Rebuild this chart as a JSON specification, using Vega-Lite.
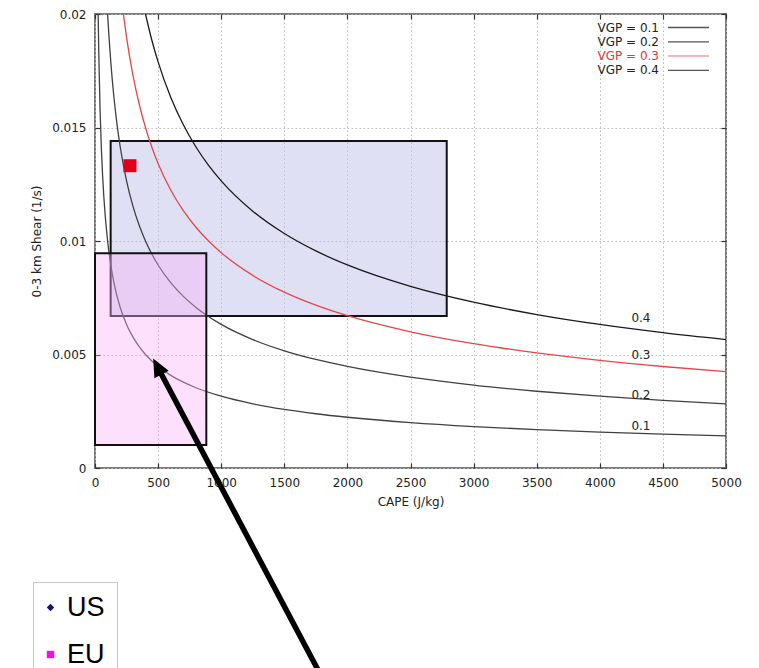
{
 "$schema": "https://vega.github.io/schema/vega-lite/v6.json",
 "width": 631,
 "height": 454,
 "autosize": {"type": "none"},
 "padding": {"left": 95, "top": 14, "right": 33, "bottom": 200},
 "background": "white",
 "config": {
  "view": {"stroke": "#7a7a7a", "strokeWidth": 2},
  "font": "DejaVu Sans",
  "axis": {"domain": false, "labelFlush": false, "labelFont": "DejaVu Sans", "labelFontSize": 12, "labelColor": "#222", "titleFont": "DejaVu Sans", "titleFontSize": 12, "titleFontWeight": "normal", "titleColor": "#222", "tickColor": "#333", "tickWidth": 1.2, "tickSize": -5, "labelPadding": 14, "titlePadding": 8, "gridColor": "#bbbbbb", "gridDash": [1.5, 2.5], "gridWidth": 1}
 },
 "datasets": {
  "usBox": [{"cape1": 124, "cape2": 2787, "s1": 0.006696, "s2": 0.014405}],
  "euBox": [{"cape1": 0, "cape2": 882, "s1": 0.001013, "s2": 0.009458}],
  "obs": [{"cape": 277, "shear": 0.013317}],
  "curves": [
   {"vgp": "0.1", "cape": 25, "shear": 0.02}, {"vgp": "0.1", "cape": 30, "shear": 0.018257}, {"vgp": "0.1", "cape": 40, "shear": 0.015811}, {"vgp": "0.1", "cape": 50, "shear": 0.014142}, {"vgp": "0.1", "cape": 60, "shear": 0.01291}, {"vgp": "0.1", "cape": 70, "shear": 0.011952}, {"vgp": "0.1", "cape": 80, "shear": 0.01118}, {"vgp": "0.1", "cape": 100, "shear": 0.01}, {"vgp": "0.1", "cape": 125, "shear": 0.008944}, {"vgp": "0.1", "cape": 150, "shear": 0.008165}, {"vgp": "0.1", "cape": 175, "shear": 0.007559}, {"vgp": "0.1", "cape": 200, "shear": 0.007071}, {"vgp": "0.1", "cape": 250, "shear": 0.006325}, {"vgp": "0.1", "cape": 300, "shear": 0.005774}, {"vgp": "0.1", "cape": 350, "shear": 0.005345}, {"vgp": "0.1", "cape": 400, "shear": 0.005}, {"vgp": "0.1", "cape": 500, "shear": 0.004472}, {"vgp": "0.1", "cape": 600, "shear": 0.004082}, {"vgp": "0.1", "cape": 700, "shear": 0.00378}, {"vgp": "0.1", "cape": 800, "shear": 0.003536}, {"vgp": "0.1", "cape": 1000, "shear": 0.003162}, {"vgp": "0.1", "cape": 1250, "shear": 0.002828}, {"vgp": "0.1", "cape": 1500, "shear": 0.002582}, {"vgp": "0.1", "cape": 1750, "shear": 0.00239}, {"vgp": "0.1", "cape": 2000, "shear": 0.002236}, {"vgp": "0.1", "cape": 2500, "shear": 0.002}, {"vgp": "0.1", "cape": 3000, "shear": 0.001826}, {"vgp": "0.1", "cape": 3500, "shear": 0.00169}, {"vgp": "0.1", "cape": 4000, "shear": 0.001581}, {"vgp": "0.1", "cape": 4500, "shear": 0.001491}, {"vgp": "0.1", "cape": 5000, "shear": 0.001414},
   {"vgp": "0.2", "cape": 100, "shear": 0.02}, {"vgp": "0.2", "cape": 110, "shear": 0.019069}, {"vgp": "0.2", "cape": 125, "shear": 0.017889}, {"vgp": "0.2", "cape": 150, "shear": 0.01633}, {"vgp": "0.2", "cape": 175, "shear": 0.015119}, {"vgp": "0.2", "cape": 200, "shear": 0.014142}, {"vgp": "0.2", "cape": 250, "shear": 0.012649}, {"vgp": "0.2", "cape": 300, "shear": 0.011547}, {"vgp": "0.2", "cape": 350, "shear": 0.01069}, {"vgp": "0.2", "cape": 400, "shear": 0.01}, {"vgp": "0.2", "cape": 450, "shear": 0.009428}, {"vgp": "0.2", "cape": 500, "shear": 0.008944}, {"vgp": "0.2", "cape": 600, "shear": 0.008165}, {"vgp": "0.2", "cape": 700, "shear": 0.007559}, {"vgp": "0.2", "cape": 800, "shear": 0.007071}, {"vgp": "0.2", "cape": 1000, "shear": 0.006325}, {"vgp": "0.2", "cape": 1250, "shear": 0.005657}, {"vgp": "0.2", "cape": 1500, "shear": 0.005164}, {"vgp": "0.2", "cape": 1750, "shear": 0.004781}, {"vgp": "0.2", "cape": 2000, "shear": 0.004472}, {"vgp": "0.2", "cape": 2500, "shear": 0.004}, {"vgp": "0.2", "cape": 3000, "shear": 0.003651}, {"vgp": "0.2", "cape": 3500, "shear": 0.003381}, {"vgp": "0.2", "cape": 4000, "shear": 0.003162}, {"vgp": "0.2", "cape": 4500, "shear": 0.002981}, {"vgp": "0.2", "cape": 5000, "shear": 0.002828},
   {"vgp": "0.3", "cape": 225, "shear": 0.02}, {"vgp": "0.3", "cape": 250, "shear": 0.018974}, {"vgp": "0.3", "cape": 300, "shear": 0.017321}, {"vgp": "0.3", "cape": 350, "shear": 0.016036}, {"vgp": "0.3", "cape": 400, "shear": 0.015}, {"vgp": "0.3", "cape": 450, "shear": 0.014142}, {"vgp": "0.3", "cape": 500, "shear": 0.013416}, {"vgp": "0.3", "cape": 600, "shear": 0.012247}, {"vgp": "0.3", "cape": 700, "shear": 0.011339}, {"vgp": "0.3", "cape": 800, "shear": 0.010607}, {"vgp": "0.3", "cape": 900, "shear": 0.01}, {"vgp": "0.3", "cape": 1000, "shear": 0.009487}, {"vgp": "0.3", "cape": 1250, "shear": 0.008485}, {"vgp": "0.3", "cape": 1500, "shear": 0.007746}, {"vgp": "0.3", "cape": 1750, "shear": 0.007171}, {"vgp": "0.3", "cape": 2000, "shear": 0.006708}, {"vgp": "0.3", "cape": 2500, "shear": 0.006}, {"vgp": "0.3", "cape": 3000, "shear": 0.005477}, {"vgp": "0.3", "cape": 3500, "shear": 0.005071}, {"vgp": "0.3", "cape": 4000, "shear": 0.004743}, {"vgp": "0.3", "cape": 4500, "shear": 0.004472}, {"vgp": "0.3", "cape": 5000, "shear": 0.004243},
   {"vgp": "0.4", "cape": 400, "shear": 0.02}, {"vgp": "0.4", "cape": 450, "shear": 0.018856}, {"vgp": "0.4", "cape": 500, "shear": 0.017889}, {"vgp": "0.4", "cape": 600, "shear": 0.01633}, {"vgp": "0.4", "cape": 700, "shear": 0.015119}, {"vgp": "0.4", "cape": 800, "shear": 0.014142}, {"vgp": "0.4", "cape": 900, "shear": 0.013333}, {"vgp": "0.4", "cape": 1000, "shear": 0.012649}, {"vgp": "0.4", "cape": 1250, "shear": 0.011314}, {"vgp": "0.4", "cape": 1500, "shear": 0.010328}, {"vgp": "0.4", "cape": 1750, "shear": 0.009562}, {"vgp": "0.4", "cape": 2000, "shear": 0.008944}, {"vgp": "0.4", "cape": 2500, "shear": 0.008}, {"vgp": "0.4", "cape": 3000, "shear": 0.007303}, {"vgp": "0.4", "cape": 3500, "shear": 0.006761}, {"vgp": "0.4", "cape": 4000, "shear": 0.006325}, {"vgp": "0.4", "cape": 4500, "shear": 0.005963}, {"vgp": "0.4", "cape": 5000, "shear": 0.005657}
  ],
  "curveLabels": [
   {"t": "0.4", "cape": 4326, "shear": 0.0066},
   {"t": "0.3", "cape": 4326, "shear": 0.00498},
   {"t": "0.2", "cape": 4326, "shear": 0.00322},
   {"t": "0.1", "cape": 4326, "shear": 0.00185}
  ],
  "key": [
   {"vgp": "0.1", "label": "VGP = 0.1", "tx": 4469, "lx1": 4540, "lx2": 4865, "s": 0.019405},
   {"vgp": "0.2", "label": "VGP = 0.2", "tx": 4469, "lx1": 4540, "lx2": 4865, "s": 0.018775},
   {"vgp": "0.3", "label": "VGP = 0.3", "tx": 4469, "lx1": 4540, "lx2": 4865, "s": 0.01815},
   {"vgp": "0.4", "label": "VGP = 0.4", "tx": 4469, "lx1": 4540, "lx2": 4865, "s": 0.01752}
  ],
  "arrow": [{"cape1": 1826, "s1": -0.009515, "cape2": 494, "s2": 0.004471}],
  "regions": [{"region": "US", "cape": -1000, "shear": -1}, {"region": "EU", "cape": -1000, "shear": -1}]
 },
 "layer": [
  {
   "data": {"name": "usBox"},
   "mark": {"type": "rect", "fill": "#bfc1e9", "fillOpacity": 0.5, "stroke": "#111", "strokeWidth": 2},
   "encoding": {
    "x": {"field": "cape1", "type": "quantitative", "scale": {"domain": [0, 5000], "nice": false}, "axis": {"orient": "bottom", "title": "CAPE (J/kg)", "values": [0, 500, 1000, 1500, 2000, 2500, 3000, 3500, 4000, 4500, 5000], "format": "d", "grid": true}},
    "x2": {"field": "cape2"},
    "y": {"field": "s1", "type": "quantitative", "scale": {"domain": [0, 0.02], "nice": false}, "axis": {"orient": "left", "title": "0-3 km Shear (1/s)", "values": [0, 0.005, 0.01, 0.015, 0.02], "format": "~g", "grid": true}},
    "y2": {"field": "s2"}
   }
  },
  {
   "data": {"name": "curves"},
   "mark": {"type": "line", "clip": true, "strokeWidth": 1.3, "interpolate": "monotone"},
   "encoding": {
    "x": {"field": "cape", "type": "quantitative", "scale": {"domain": [0, 5000], "nice": false}, "axis": {"orient": "top", "labels": false, "title": null, "grid": false, "values": [0, 500, 1000, 1500, 2000, 2500, 3000, 3500, 4000, 4500, 5000]}},
    "y": {"field": "shear", "type": "quantitative", "scale": {"domain": [0, 0.02], "nice": false}, "axis": {"orient": "right", "labels": false, "title": null, "grid": false, "values": [0, 0.005, 0.01, 0.015, 0.02]}},
    "detail": {"field": "vgp"},
    "color": {"condition": [{"test": "datum.vgp === '0.3'", "value": "#e04848"}, {"test": "datum.vgp === '0.4'", "value": "#1a1a1a"}], "value": "#404040"}
   }
  },
  {
   "data": {"name": "obs"},
   "mark": {"type": "point", "shape": "square", "filled": true, "size": 169, "color": "#e2001a", "opacity": 1},
   "encoding": {
    "x": {"field": "cape", "type": "quantitative", "axis": null},
    "y": {"field": "shear", "type": "quantitative", "axis": null}
   }
  },
  {
   "data": {"name": "euBox"},
   "mark": {"type": "rect", "fill": "#fab1f7", "fillOpacity": 0.4, "stroke": "#111", "strokeWidth": 2},
   "encoding": {
    "x": {"field": "cape1", "type": "quantitative", "axis": null},
    "x2": {"field": "cape2"},
    "y": {"field": "s1", "type": "quantitative", "axis": null},
    "y2": {"field": "s2"}
   }
  },
  {
   "data": {"name": "curveLabels"},
   "mark": {"type": "text", "fontSize": 12, "color": "#222", "font": "DejaVu Sans"},
   "encoding": {
    "x": {"field": "cape", "type": "quantitative", "axis": null},
    "y": {"field": "shear", "type": "quantitative", "axis": null},
    "text": {"field": "t"}
   }
  },
  {
   "data": {"name": "key"},
   "mark": {"type": "text", "fontSize": 12, "align": "right", "font": "DejaVu Sans"},
   "encoding": {
    "x": {"field": "tx", "type": "quantitative", "axis": null},
    "y": {"field": "s", "type": "quantitative", "axis": null},
    "text": {"field": "label"},
    "color": {"condition": {"test": "datum.vgp === '0.3'", "value": "#e03838"}, "value": "#222"}
   }
  },
  {
   "data": {"name": "key"},
   "mark": {"type": "rule", "strokeWidth": 1.3},
   "encoding": {
    "x": {"field": "lx1", "type": "quantitative", "axis": null},
    "x2": {"field": "lx2"},
    "y": {"field": "s", "type": "quantitative", "axis": null},
    "color": {"condition": [{"test": "datum.vgp === '0.3'", "value": "#f0a0a0"}], "value": "#555"}
   }
  },
  {
   "data": {"name": "arrow"},
   "mark": {"type": "rule", "strokeWidth": 5.5, "color": "#000", "clip": false, "strokeCap": "butt"},
   "encoding": {
    "x": {"field": "cape1", "type": "quantitative", "axis": null},
    "y": {"field": "s1", "type": "quantitative", "axis": null},
    "x2": {"field": "cape2"},
    "y2": {"field": "s2"}
   }
  },
  {
   "data": {"name": "arrow"},
   "mark": {"type": "point", "shape": "M0,-1L0.9,1L-0.9,1Z", "filled": true, "size": 320, "color": "#000", "opacity": 1, "angle": 332, "clip": false},
   "encoding": {
    "x": {"field": "cape2", "type": "quantitative", "axis": null},
    "y": {"field": "s2", "type": "quantitative", "axis": null}
   }
  },
  {
   "data": {"name": "regions"},
   "mark": {"type": "point", "filled": true, "clip": true, "opacity": 1},
   "encoding": {
    "x": {"field": "cape", "type": "quantitative", "axis": null},
    "y": {"field": "shear", "type": "quantitative", "axis": null},
    "color": {"field": "region", "type": "nominal", "scale": {"domain": ["US", "EU"], "range": ["#14146e", "#ee11ee"]},
     "legend": {"orient": "none", "legendX": -62, "legendY": 568, "title": null, "labelFont": "Liberation Sans", "labelFontSize": 27, "labelColor": "#000", "symbolSize": 55, "padding": 12, "rowPadding": 19, "labelOffset": 3, "symbolOffset": -8, "strokeColor": "#c8c8c8", "fillColor": "white", "symbolStrokeWidth": 0, "symbolOpacity": 1}},
    "shape": {"field": "region", "type": "nominal", "scale": {"domain": ["US", "EU"], "range": ["diamond", "square"]},
     "legend": {"orient": "none", "legendX": -62, "legendY": 568, "title": null, "labelFont": "Liberation Sans", "labelFontSize": 27, "labelColor": "#000", "symbolSize": 55, "padding": 12, "rowPadding": 19, "labelOffset": 3, "symbolOffset": -8, "strokeColor": "#c8c8c8", "fillColor": "white", "symbolStrokeWidth": 0, "symbolOpacity": 1}}
   }
  }
 ]
}
